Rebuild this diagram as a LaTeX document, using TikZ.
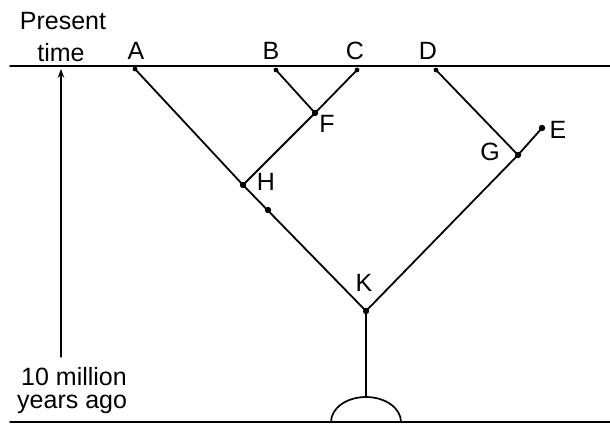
\documentclass[tikz,border=0pt]{standalone}
\usepackage{fontspec}
\setmainfont{Liberation Sans}
\usetikzlibrary{arrows.meta,positioning}

\begin{document}
\begin{tikzpicture}[x=1pt,y=-1pt,>=Stealth,line cap=round,line join=round,
  lab/.style={font=\fontsize{25}{27}\selectfont,inner sep=0pt},
  branch/.style={line width=1.8pt},
  ground/.style={line width=1.7pt}]
\useasboundingbox (0,0) rectangle (610,425);
% time lines
\coordinate (topL) at (10,66);
\coordinate (topR) at (610,66);
\coordinate (botL) at (10,422);
\coordinate (botR) at (610,422);
\draw[ground] (topL)--(topR);
\draw[ground] (botL)--(botR);
\coordinate (past) at (61,357);
\coordinate (now) at (61,69);
\draw[->,line width=1.3pt] (past)--(now);
\node[lab,anchor=base] (present) at (63,30) {Present};
\node[lab,anchor=base] (time) at (61,62) {time};
\node[lab,anchor=base west] (million) at (21,385) {10 million};
\node[lab,anchor=base west] (ago) at (17,408) {years ago};
% tree
\coordinate (A) at (135,69);
\coordinate (B) at (276,70);
\coordinate (C) at (357,70);
\coordinate (D) at (436,70);
\coordinate (E) at (542,128);
\coordinate (F) at (315,113);
\coordinate (G) at (518,155);
\coordinate (H) at (243,185);
\coordinate (K) at (366,311);
\coordinate (mark) at (268,210);
\coordinate (root) at (366,397);
\draw[branch] (A)--(H)--(K)--(G)--(D);
\draw[branch] (H)--(F)--(B);
\draw[branch] (F)--(C);
\draw[branch] (G)--(E);
\draw[line width=1.3pt] (K)--(root);
\draw[line width=1.7pt] (331,422) arc[start angle=180,end angle=360,x radius=35,y radius=25];
\foreach \p in {A,B,C,D}{\fill (\p) circle (2.4);}
\foreach \p in {E,F,G,H,K,mark}{\fill (\p) circle (3.2);}
% labels
\node[lab,anchor=base] (la) at (136,60) {A};
\node[lab,anchor=base] (lb) at (271,60) {B};
\node[lab,anchor=base] (lc) at (355,60) {C};
\node[lab,anchor=base] (ld) at (428,60) {D};
\node[lab] (le) at (558,130) {E};
\node[lab] (lf) at (327,124) {F};
\node[lab] (lg) at (490,152) {G};
\node[lab] (lh) at (266,182) {H};
\node[lab] (lk) at (364,283) {K};
\end{tikzpicture}
\end{document}
